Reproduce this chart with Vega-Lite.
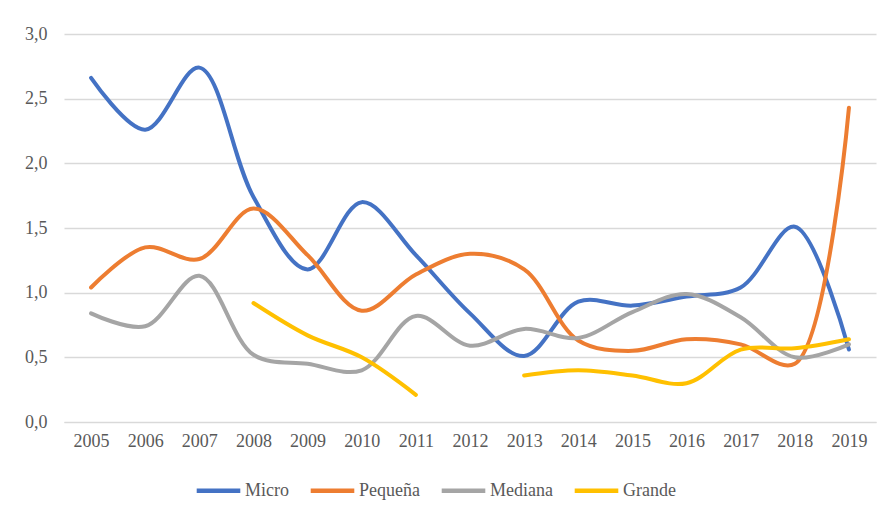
{
  "$schema": "https://vega.github.io/schema/vega-lite/v6.json",
  "autosize": "none",
  "width": 812,
  "height": 388,
  "padding": {"left": 64, "top": 34, "right": 18, "bottom": 94},
  "background": "white",
  "config": {
    "view": {"stroke": null},
    "font": "Times New Roman"
  },
  "data": {
    "values": [
      {"year": "2005", "serie": "Micro", "v": 2.66},
      {"year": "2006", "serie": "Micro", "v": 2.26},
      {"year": "2007", "serie": "Micro", "v": 2.74},
      {"year": "2008", "serie": "Micro", "v": 1.74},
      {"year": "2009", "serie": "Micro", "v": 1.18},
      {"year": "2010", "serie": "Micro", "v": 1.70},
      {"year": "2011", "serie": "Micro", "v": 1.29},
      {"year": "2012", "serie": "Micro", "v": 0.84},
      {"year": "2013", "serie": "Micro", "v": 0.51},
      {"year": "2014", "serie": "Micro", "v": 0.93},
      {"year": "2015", "serie": "Micro", "v": 0.90},
      {"year": "2016", "serie": "Micro", "v": 0.97},
      {"year": "2017", "serie": "Micro", "v": 1.04},
      {"year": "2018", "serie": "Micro", "v": 1.51},
      {"year": "2019", "serie": "Micro", "v": 0.56},
      {"year": "2005", "serie": "Pequeña", "v": 1.04},
      {"year": "2006", "serie": "Pequeña", "v": 1.35},
      {"year": "2007", "serie": "Pequeña", "v": 1.26},
      {"year": "2008", "serie": "Pequeña", "v": 1.65},
      {"year": "2009", "serie": "Pequeña", "v": 1.29},
      {"year": "2010", "serie": "Pequeña", "v": 0.86},
      {"year": "2011", "serie": "Pequeña", "v": 1.14},
      {"year": "2012", "serie": "Pequeña", "v": 1.30},
      {"year": "2013", "serie": "Pequeña", "v": 1.18},
      {"year": "2014", "serie": "Pequeña", "v": 0.63},
      {"year": "2015", "serie": "Pequeña", "v": 0.55},
      {"year": "2016", "serie": "Pequeña", "v": 0.64},
      {"year": "2017", "serie": "Pequeña", "v": 0.60},
      {"year": "2018", "serie": "Pequeña", "v": 0.45},
      {"year": "2019", "serie": "Pequeña", "v": 2.43},
      {"year": "2005", "serie": "Mediana", "v": 0.84},
      {"year": "2006", "serie": "Mediana", "v": 0.74},
      {"year": "2007", "serie": "Mediana", "v": 1.13},
      {"year": "2008", "serie": "Mediana", "v": 0.52},
      {"year": "2009", "serie": "Mediana", "v": 0.45},
      {"year": "2010", "serie": "Mediana", "v": 0.40},
      {"year": "2011", "serie": "Mediana", "v": 0.82},
      {"year": "2012", "serie": "Mediana", "v": 0.59},
      {"year": "2013", "serie": "Mediana", "v": 0.72},
      {"year": "2014", "serie": "Mediana", "v": 0.65},
      {"year": "2015", "serie": "Mediana", "v": 0.85},
      {"year": "2016", "serie": "Mediana", "v": 0.99},
      {"year": "2017", "serie": "Mediana", "v": 0.81},
      {"year": "2018", "serie": "Mediana", "v": 0.50},
      {"year": "2019", "serie": "Mediana", "v": 0.60},
      {"year": "2008", "serie": "Grande", "v": 0.92},
      {"year": "2009", "serie": "Grande", "v": 0.67},
      {"year": "2010", "serie": "Grande", "v": 0.50},
      {"year": "2011", "serie": "Grande", "v": 0.21},
      {"year": "2012", "serie": "Grande", "v": null},
      {"year": "2013", "serie": "Grande", "v": 0.36},
      {"year": "2014", "serie": "Grande", "v": 0.40},
      {"year": "2015", "serie": "Grande", "v": 0.36},
      {"year": "2016", "serie": "Grande", "v": 0.30},
      {"year": "2017", "serie": "Grande", "v": 0.56},
      {"year": "2018", "serie": "Grande", "v": 0.57},
      {"year": "2019", "serie": "Grande", "v": 0.64}
    ]
  },
  "mark": {"type": "line", "interpolate": "catmull-rom", "strokeWidth": 4, "strokeCap": "round", "invalid": "break-paths-show-domains"},
  "encoding": {
    "x": {
      "field": "year", "type": "ordinal",
      "scale": {"type": "point", "padding": 0.5},
      "axis": {"title": null, "labelAngle": 0, "labelFont": "Times New Roman", "labelFontSize": 18, "labelColor": "#595959", "domain": true, "domainColor": "#D9D9D9", "ticks": false, "labelPadding": 10, "grid": false}
    },
    "y": {
      "field": "v", "type": "quantitative",
      "scale": {"domain": [0, 3]},
      "axis": {"title": null, "values": [0, 0.5, 1, 1.5, 2, 2.5, 3], "labelExpr": "replace(format(datum.value, '.1f'), '.', ',')", "labelFont": "Times New Roman", "labelFontSize": 18, "labelColor": "#595959", "domain": false, "ticks": false, "labelPadding": 17, "grid": true, "gridColor": "#D9D9D9", "gridWidth": 1.3}
    },
    "color": {
      "field": "serie", "type": "nominal",
      "scale": {"domain": ["Micro", "Pequeña", "Mediana", "Grande"], "range": ["#4472C4", "#ED7D31", "#A5A5A5", "#FFC000"]},
      "legend": {"title": null, "orient": "none", "direction": "horizontal", "legendX": 130, "legendY": 432, "symbolType": "stroke", "symbolSize": 1900, "symbolStrokeWidth": 4.5, "labelFont": "Times New Roman", "labelFontSize": 18, "labelColor": "#595959", "labelOffset": 2, "columnPadding": 12}
    }
  }
}
